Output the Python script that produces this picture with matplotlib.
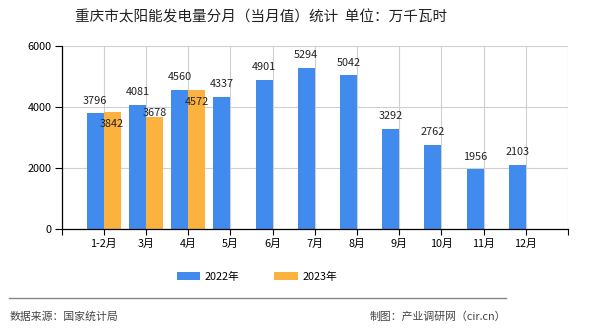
import matplotlib.pyplot as plt
import numpy as np

plt.rcParams['font.family'] = ['Noto Sans CJK SC', 'DejaVu Sans']

months = ['1-2月', '3月', '4月', '5月', '6月', '7月', '8月', '9月', '10月', '11月', '12月']
values_2022 = [3796, 4081, 4560, 4337, 4901, 5294, 5042, 3292, 2762, 1956, 2103]
values_2023 = [3842, 3678, 4572]
# vertical offsets (pt) for the 2023 value labels so they don't collide
offsets_2023 = [-9, 3, -9]

blue = '#428bee'
orange = '#fbb23f'

fig = plt.figure(figsize=(5.9, 3.3), dpi=100)
ax = fig.add_axes([61.5 / 590, 101 / 330, 506.5 / 590, 183 / 330])

x = np.arange(1, len(months) + 1)
w = 0.4
ax.bar(x - w / 2, values_2022, width=w, color=blue, label='2022年', zorder=2)
x23 = x[:len(values_2023)]
ax.bar(x23 + w / 2, values_2023, width=w, color=orange, label='2023年', zorder=2)

for xi, v in zip(x, values_2022):
    ax.annotate(str(v), (xi - w / 2, v), xytext=(0, 9), textcoords='offset points',
                ha='center', va='center', fontsize=7.8, color='#222222')
for xi, v, off in zip(x23, values_2023, offsets_2023):
    ax.annotate(str(v), (xi + w / 2, v), xytext=(0, off), textcoords='offset points',
                ha='center', va='center', fontsize=7.8, color='#222222')

ax.set_xlim(0, 12)
ax.set_ylim(0, 6000)
ax.set_yticks([0, 2000, 4000, 6000])
ax.set_xticks(np.arange(0, 13))
ax.set_xticklabels([''] + months + [''])
ax.tick_params(axis='y', labelsize=7.8, length=5, pad=2, width=0.8)
ax.tick_params(axis='x', labelsize=7.8, length=4, pad=3, width=0.8)
ax.grid(True, color='#d0d0d0', linewidth=0.8, zorder=0)
ax.spines['top'].set_visible(False)
ax.spines['right'].set_visible(False)
ax.spines['left'].set_linewidth(0.9)
ax.spines['bottom'].set_linewidth(0.9)

fig.text(261 / 590, 1 - 17 / 330, '重庆市太阳能发电量分月（当月值）统计  单位：万千瓦时',
         ha='center', va='center', fontsize=10.5, color='#222222')

fig.legend(loc='center', bbox_to_anchor=(257 / 590, 1 - 277 / 330), ncol=2, frameon=False,
           fontsize=7.8, handlelength=2.2, handleheight=0.8, columnspacing=3.2, handletextpad=0.4)

fig.add_artist(plt.Line2D([9 / 590, 506 / 590], [1 - 298 / 330] * 2, color='#888888', linewidth=1))
fig.text(10 / 590, 1 - 317 / 330, '数据来源：国家统计局', ha='left', va='center', fontsize=7.8, color='#444444')
fig.text(506 / 590, 1 - 317 / 330, '制图：产业调研网（cir.cn）', ha='right', va='center', fontsize=7.8, color='#444444')

fig.savefig('out.png', dpi=100)
